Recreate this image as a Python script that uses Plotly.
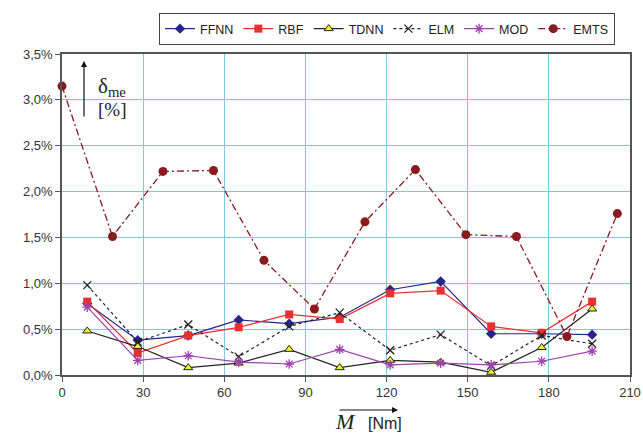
import plotly.graph_objects as go

# ---- data ----
x_models = [9.33, 28.0, 46.67, 65.33, 84.0, 102.67, 121.33, 140.0, 158.67, 177.33, 196.0]
ffnn = [0.78, 0.38, 0.43, 0.60, 0.56, 0.63, 0.93, 1.02, 0.45, 0.45, 0.44]
rbf = [0.80, 0.24, 0.43, 0.52, 0.66, 0.61, 0.89, 0.92, 0.53, 0.46, 0.80]
tdnn = [0.48, 0.31, 0.08, 0.13, 0.28, 0.08, 0.16, 0.14, 0.03, 0.30, 0.72]
elm = [0.98, 0.36, 0.55, 0.20, 0.53, 0.68, 0.27, 0.44, 0.10, 0.43, 0.34]
mod = [0.74, 0.16, 0.21, 0.14, 0.12, 0.28, 0.11, 0.13, 0.11, 0.15, 0.26]
x_emts = [0.0, 18.67, 37.33, 56.0, 74.67, 93.33, 112.0, 130.67, 149.33, 168.0, 186.67, 205.33]
emts = [3.15, 1.51, 2.22, 2.23, 1.25, 0.72, 1.67, 2.24, 1.53, 1.51, 0.42, 1.76]

x_ticks = [0, 30, 60, 90, 120, 150, 180, 210]
y_ticks = [0.0, 0.5, 1.0, 1.5, 2.0, 2.5, 3.0, 3.5]
y_tick_labels = ["0,0%", "0,5%", "1,0%", "1,5%", "2,0%", "2,5%", "3,0%", "3,5%"]

W, H = 643, 434
L, R, T, B = 62, 13, 54, 59
PW, PH = W - L - R, H - T - B


def px(xp):
    return (xp - L) / PW


def py(yp):
    return (H - B - yp) / PH


fig = go.Figure()

series = [
    ("FFNN", x_models, ffnn, dict(color="#26268A", width=1.2), dict(symbol="diamond", size=8, color="#26268A")),
    ("RBF", x_models, rbf, dict(color="#E8302F", width=1.2), dict(symbol="square", size=8, color="#E8302F")),
    ("TDNN", x_models, tdnn, dict(color="#222222", width=1.2),
     dict(symbol="triangle-up", size=8, color="#F2F020", line=dict(color="#222222", width=1))),
    ("ELM", x_models, elm, dict(color="#222222", width=1.2, dash="dot"),
     dict(symbol="x-thin-open", size=8, color="#222222", line=dict(color="#222222", width=1.3))),
    ("MOD", x_models, mod, dict(color="#A040B0", width=1.2),
     dict(symbol="asterisk-open", size=8, color="#A040B0", line=dict(color="#A040B0", width=1.3))),
    ("EMTS", x_emts, emts, dict(color="#8B1A1F", width=1.3, dash="7px,3px,2px,3px"),
     dict(symbol="circle", size=9, color="#8B1A1F")),
]

for name, xs, ys, ln, mk in series:
    fig.add_trace(go.Scatter(x=xs, y=ys, name=name, mode="lines+markers",
                             line=ln, marker=mk, cliponaxis=False))

font_ticks = dict(family="Liberation Sans, Arial, sans-serif", size=13, color="#333333")

fig.update_layout(
    width=W, height=H,
    margin=dict(l=L, r=R, t=T, b=B, autoexpand=False),
    paper_bgcolor="white", plot_bgcolor="white",
    showlegend=True,
    legend=dict(orientation="h", x=px(387), xanchor="center", y=py(13), yanchor="top",
                font=dict(family="Liberation Sans, Arial, sans-serif", size=12.5, color="#222222"),
                bordercolor="#444444", borderwidth=1, bgcolor="white",
                itemwidth=30, tracegroupgap=0),
    xaxis=dict(range=[0, 210], tickvals=x_ticks, showgrid=True, gridcolor="#7CC8E4", gridwidth=1.4,
               showline=True, linecolor="#555555", linewidth=1.5, mirror=True, automargin=False,
               ticks="outside", ticklen=5, tickcolor="#555555", tickfont=font_ticks, zeroline=False),
    yaxis=dict(range=[0, 3.5], tickvals=y_ticks, ticktext=y_tick_labels,
               showgrid=True, gridcolor="#7CC8E4", gridwidth=1.4, automargin=False,
               showline=True, linecolor="#555555", linewidth=1.5, mirror=True,
               ticks="outside", ticklen=5, tickcolor="#555555", tickfont=font_ticks, zeroline=False),
)

# y-axis label with arrow
fig.add_annotation(xref="paper", yref="paper", x=px(84), y=py(61), ax=0, ay=57,
                   text="", showarrow=True, arrowhead=2, arrowsize=1, arrowwidth=1.2,
                   arrowcolor="#111111")
fig.add_annotation(xref="paper", yref="paper", x=px(96), y=py(87), xanchor="left", yanchor="middle",
                   text="δ<sub>me</sub>", showarrow=False,
                   font=dict(family="Liberation Serif, Times New Roman, serif", size=21, color="#222222"))
fig.add_annotation(xref="paper", yref="paper", x=px(96), y=py(109), xanchor="left", yanchor="middle",
                   text="[%]", showarrow=False,
                   font=dict(family="Liberation Serif, Times New Roman, serif", size=19, color="#222222"))

# x-axis label with arrow
fig.add_annotation(xref="paper", yref="paper", x=px(398), y=py(410), ax=-60, ay=0,
                   text="", showarrow=True, arrowhead=2, arrowsize=1, arrowwidth=1.2,
                   arrowcolor="#111111")
fig.add_annotation(xref="paper", yref="paper", x=px(333), y=py(422), xanchor="left", yanchor="middle",
                   text="<i>M</i>", showarrow=False,
                   font=dict(family="Liberation Serif, Times New Roman, serif", size=22, color="#222222"))
fig.add_annotation(xref="paper", yref="paper", x=px(366), y=py(424), xanchor="left", yanchor="middle",
                   text="[Nm]", showarrow=False,
                   font=dict(family="Liberation Sans, Arial, sans-serif", size=16, color="#222222"))

fig.write_html("out.html", config={"displayModeBar": False},
               post_script="document.body.style.margin='0px';")
